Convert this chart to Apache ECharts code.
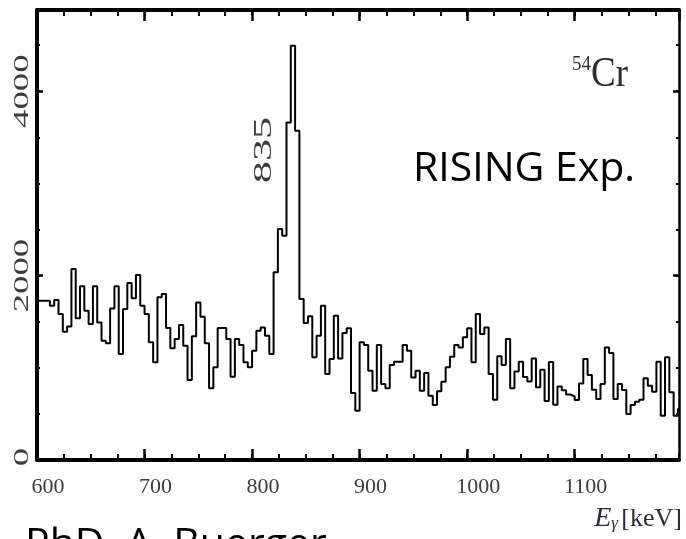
<!DOCTYPE html>
<html><head><meta charset="utf-8">
<script src="https://cdn.jsdelivr.net/npm/echarts@6/dist/echarts.min.js"></script>
<style>html,body{margin:0;padding:0;background:#fff}#c{width:686px;height:539px}</style>
</head><body><div id="c"></div>
<script>
// Histogram: 4 keV bins starting at 600 keV
const binStart = 600;
const binWidth = 4;
const counts = [
  1727,1727,1727,1673,1735,1583,1391,1449,2070,1536,
  1883,1619,1474,1883,1492,1293,1265,1644,1883,1149,
  1637,1919,1753,2005,1673,1583,1276,1059,1764,1799,
  1431,1211,1312,1463,1239,867,1341,1709,1553,1265,
  777,1005,1431,1431,1312,903,1312,1247,1059,1005,
  1185,1402,1438,1347,1149,2035,2504,2432,3661,4491,
  3570,1745,1485,1558,1113,1347,1673,932,1095,1564,
  1102,1377,1428,726,534,1276,1247,968,751,1247,
  824,777,1030,1066,1066,1247,1185,896,968,751,
  943,697,596,745,849,1005,1120,1247,1221,1330,
  1428,1059,1583,1366,1438,932,654,1124,1030,1312,
  777,960,1066,900,850,1100,790,980,640,1062,
  600,797,756,710,690,650,830,1095,921,762,
  661,824,1221,1160,661,824,759,499,596,632,
  654,886,806,740,1066,480,1113,734,480,553
];
const xTicks = [600, 700, 800, 900, 1000, 1100];
const yTicks = [0, 2000, 4000];
const xRange = [600, 1197];
const yRange = [0, 4880];
const peakLabel = '835';
const nucleus = { mass: '54', symbol: 'Cr' };
const expLabel = 'RISING Exp.';
const authorLabel = 'PhD. A. Buerger';

const pts = counts.map((v, i) => [binStart + i * binWidth, v]);
pts.push([binStart + counts.length * binWidth, counts[counts.length - 1]]);

const serif = '"Liberation Serif", "DejaVu Serif", serif';
const labelColor = '#3b3b48';

function axisX(opts) {
  return Object.assign({
    type: 'value', min: xRange[0], max: xRange[1], gridIndex: 0,
    splitLine: { show: false },
    axisLine: { show: false, onZero: false },
    axisLabel: { show: false },
    axisTick: { show: true, inside: true, length: 11, lineStyle: { color: '#000', width: 2.5 } }
  }, opts);
}
function axisY(opts) {
  return Object.assign({
    type: 'value', min: yRange[0], max: yRange[1], gridIndex: 0,
    splitLine: { show: false },
    axisLine: { show: false, onZero: false },
    axisLabel: { show: false },
    axisTick: { show: true, inside: true, length: 6, lineStyle: { color: '#000', width: 2.5 } }
  }, opts);
}

const chart = echarts.init(document.getElementById('c'), null, { renderer: 'canvas' });
chart.setOption({
  animation: false,
  backgroundColor: '#fff',
  grid: { left: 37, right: 7, top: 10, bottom: 79, containLabel: false },
  xAxis: [
    axisX({ position: 'bottom', interval: 100,
      axisLine: { show: true, onZero: false, lineStyle: { color: '#000', width: 4 } },
      axisLabel: { show: true, fontFamily: serif, fontSize: 22, color: labelColor, margin: 16,
        padding: [0, 0, 0, 22], showMaxLabel: false,
        formatter: v => xTicks.includes(v) ? String(v) : '' } }),
    axisX({ position: 'bottom', interval: 25, axisTick: { show: true, inside: true, length: 6, lineStyle: { color: '#000', width: 2 } } }),
    axisX({ position: 'top', interval: 100,
      axisLine: { show: true, onZero: false, lineStyle: { color: '#000', width: 4 } } }),
    axisX({ position: 'top', interval: 25, axisTick: { show: true, inside: true, length: 6, lineStyle: { color: '#000', width: 2 } } })
  ],
  yAxis: [
    axisY({ position: 'left', interval: 2000,
      axisLine: { show: true, onZero: false, lineStyle: { color: '#000', width: 4 } } }),
    axisY({ position: 'left', interval: 500, axisTick: { show: true, inside: true, length: 3, lineStyle: { color: '#000', width: 2 } } }),
    axisY({ position: 'right', interval: 2000,
      axisLine: { show: true, onZero: false, lineStyle: { color: '#000', width: 2.5 } } }),
    axisY({ position: 'right', interval: 500, axisTick: { show: true, inside: true, length: 3, lineStyle: { color: '#000', width: 2 } } })
  ],
  series: [{
    type: 'line', xAxisIndex: 0, yAxisIndex: 0,
    data: pts, step: 'end', showSymbol: false, clip: true,
    lineStyle: { color: '#000', width: 2 }
  }]
});

// y tick labels (rotated, stretched like the scanned figure), placed through the axis scale
const yLabelGraphics = yTicks.map(v => ({
  type: 'text', x: 22, y: chart.convertToPixel({ yAxisIndex: 0 }, v) - (v === 0 ? 3 : 0),
  rotation: Math.PI / 2, scaleX: 1.75,
  style: { text: String(v), font: '21px ' + serif, fill: labelColor, textAlign: 'center', textVerticalAlign: 'middle' }
}));

chart.setOption({
  graphic: yLabelGraphics.concat([
    { type: 'text', x: 264, y: 150, rotation: Math.PI / 2, scaleX: 1.7,
      style: { text: peakLabel, font: '26px ' + serif, fill: labelColor, textAlign: 'center', textVerticalAlign: 'middle' } },
    { type: 'text', x: 628, y: 96, scaleY: 1.15,
      style: { text: '{m|' + nucleus.mass + '}{s|' + nucleus.symbol + '}', textAlign: 'right', textVerticalAlign: 'bottom',
        rich: { m: { fontFamily: serif, fontSize: 19, fill: '#2a2a40', verticalAlign: 'top', padding: [0, 0, 16, 0] },
                s: { fontFamily: serif, fontSize: 37, fill: '#2a2a40' } } } },
    { type: 'text', x: 413, y: 169,
      style: { text: expLabel, font: '41px "Open Sans", sans-serif', fill: '#000', textAlign: 'left', textVerticalAlign: 'middle' } },
    { type: 'text', x: 25, y: 525,
      style: { text: authorLabel, font: '41px "Open Sans", sans-serif', fill: '#000', textAlign: 'left', textVerticalAlign: 'top' } },
    { type: 'text', x: 682, y: 533,
      style: { text: '{e|E}{g|γ} {k|[keV]}', textAlign: 'right', textVerticalAlign: 'bottom',
        rich: { e: { fontFamily: serif, fontStyle: 'italic', fontSize: 28, fill: '#2a2a40' },
                g: { fontFamily: serif, fontStyle: 'italic', fontSize: 17, fill: '#2a2a40', padding: [10, 0, 0, 0] },
                k: { fontFamily: serif, fontSize: 26, fill: '#2a2a40' } } } }
  ])
});
</script></body></html>
